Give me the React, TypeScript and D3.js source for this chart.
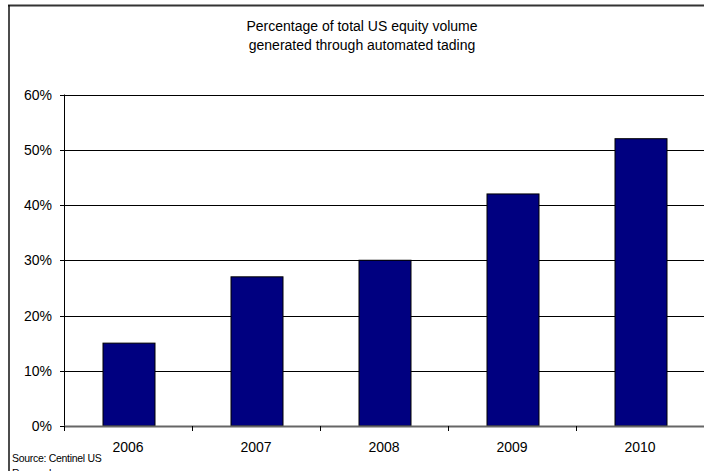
import React, { useEffect, useRef } from "react";
import * as d3 from "d3";

const categories = ["2006", "2007", "2008", "2009", "2010"];
const values = [0.15, 0.27, 0.30, 0.42, 0.52];
const yTicks = [0, 0.1, 0.2, 0.3, 0.4, 0.5, 0.6];
const titleLines = ["Percentage of total US equity volume", "generated through automated tading"];
const sourceLines = ["Source: Centinel US", "Research"];

const W = 704;
const H = 471;

export default function App() {
  const ref = useRef<SVGSVGElement>(null);
  useEffect(() => {
    const svg = d3.select(ref.current);
    svg.selectAll("*").remove();
    const font = "Arial, 'Liberation Sans', sans-serif";
    const left = 64, right = 704, top = 94.5, bottom = 426;

    svg.append("rect").attr("x", 0).attr("y", 0).attr("width", W).attr("height", H).attr("fill", "#fff");

    // outer border
    svg.append("line").attr("x1", 8).attr("x2", W).attr("y1", 5.5).attr("y2", 5.5)
      .attr("stroke", "#333").attr("stroke-width", 2);
    svg.append("line").attr("x1", 9).attr("x2", 9).attr("y1", 5).attr("y2", H)
      .attr("stroke", "#111").attr("stroke-width", 1.5);

    const x = d3.scaleBand<string>().domain(categories).range([left, right]).paddingInner(0).paddingOuter(0);
    const y = d3.scaleLinear().domain([0, 0.6]).range([bottom, top]);

    // gridlines
    svg.append("g").selectAll("line").data(yTicks.filter(t => t > 0)).join("line")
      .attr("x1", left).attr("x2", right)
      .attr("y1", d => Math.round(y(d)) + 0.5).attr("y2", d => Math.round(y(d)) + 0.5)
      .attr("stroke", "#000").attr("stroke-width", 1);

    // bars
    const bw = 52;
    svg.append("g").selectAll("rect").data(values).join("rect")
      .attr("x", (d, i) => (x(categories[i]) as number) + x.bandwidth() / 2 - bw / 2 + 1)
      .attr("y", d => y(d))
      .attr("width", bw)
      .attr("height", d => bottom - y(d))
      .attr("fill", "#000080")
      .attr("stroke", "#000").attr("stroke-width", 1);

    // y axis line
    svg.append("line").attr("x1", left + 0.5).attr("x2", left + 0.5).attr("y1", top).attr("y2", bottom)
      .attr("stroke", "#000").attr("stroke-width", 1);
    // y ticks
    svg.append("g").selectAll("line").data(yTicks).join("line")
      .attr("x1", left - 4).attr("x2", left)
      .attr("y1", d => Math.round(y(d)) + 0.5).attr("y2", d => Math.round(y(d)) + 0.5)
      .attr("stroke", "#000");
    svg.append("g").selectAll("text").data(yTicks).join("text")
      .attr("x", 52).attr("y", d => y(d) + 5)
      .attr("text-anchor", "end").attr("font-family", font).attr("font-size", 14)
      .attr("fill", "#000")
      .text(d => d3.format(".0%")(d));

    // x axis
    svg.append("line").attr("x1", left).attr("x2", right).attr("y1", bottom + 0.5).attr("y2", bottom + 0.5)
      .attr("stroke", "#666").attr("stroke-width", 2);
    const edges = categories.map(c => x(c) as number).concat([right]);
    svg.append("g").selectAll("line").data(edges).join("line")
      .attr("x1", d => Math.round(d) + 0.5).attr("x2", d => Math.round(d) + 0.5)
      .attr("y1", bottom).attr("y2", bottom + 5)
      .attr("stroke", "#000");
    svg.append("g").selectAll("text").data(categories).join("text")
      .attr("x", d => (x(d) as number) + x.bandwidth() / 2)
      .attr("y", 452)
      .attr("text-anchor", "middle").attr("font-family", font).attr("font-size", 14)
      .attr("fill", "#000")
      .text(d => d);

    // title
    svg.append("g").selectAll("text").data(titleLines).join("text")
      .attr("x", 362).attr("y", (d, i) => 31 + i * 19)
      .attr("text-anchor", "middle").attr("font-family", font).attr("font-size", 14)
      .attr("fill", "#000")
      .text(d => d);

    // source
    svg.append("g").selectAll("text").data(sourceLines).join("text")
      .attr("x", 12).attr("y", (d, i) => 462 + i * 15)
      .attr("font-family", font).attr("font-size", 10.5).attr("letter-spacing", -0.3)
      .attr("fill", "#000")
      .text(d => d);
  }, []);
  return (
    <svg ref={ref} width={W} height={H} style={{ position: "absolute", left: 0, top: 0, display: "block" }} />
  );
}
